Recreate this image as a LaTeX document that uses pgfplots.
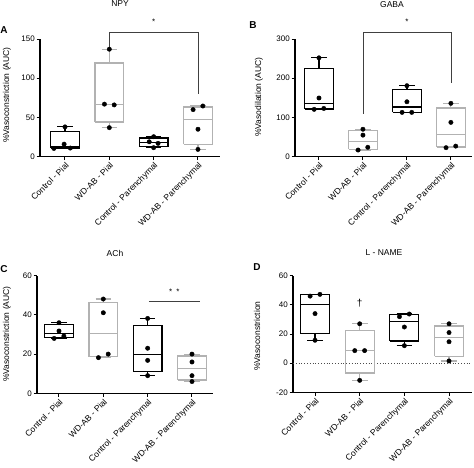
\documentclass[border=0pt]{standalone}
\usepackage{pgfplots}
\pgfplotsset{compat=1.18}
\usepackage{fontspec}
\setmainfont{Liberation Sans}
\pgfplotsset{
 panel/.style={scale only axis, axis lines=left, axis line style={line width=1.3pt,-},
   tick style={line width=1pt, black}, major tick length=3.5pt, tick align=outside,
   xtick={1,2,3,4}, xticklabels={Control - Pial, WD-AB - Pial, Control - Parenchymal, WD-AB - Parenchymal},
   xticklabel style={rotate=45, anchor=north east, inner sep=1pt, font=\fontsize{8.5}{9}\selectfont},
   yticklabel style={font=\fontsize{8}{9}\selectfont, inner sep=1.5pt},
   /pgf/number format/assume math mode=true,
   unbounded coords=jump,
   clip=false, anchor=south west},
 bb/.style={black, line width=1.2pt, line join=miter, mark=none},
 gb/.style={black!30, line width=1.2pt, line join=miter, mark=none},
 dots/.style={only marks, mark=*, mark size=2.2pt, black},
 brk/.style={black!75, line width=0.6pt},
}
\begin{document}
\begin{tikzpicture}
\useasboundingbox (0pt,0pt) rectangle (474pt,467pt);
% ---------- A: NPY
\begin{axis}[panel, at={(40pt,310.3pt)}, width=180pt, height=117.7pt,
  xmin=0.436, xmax=4.497, ymin=0, ymax=150, ytick={0,50,100,150}]
\addplot[bb] coordinates {(0.675,11) (1.325,11) (1.325,32.5) (0.675,32.5) (0.675,11) (1,nan) (0.675,13.5) (1.325,13.5) (1,nan) (1,32.5) (1,38) (1,nan) (0.825,38) (1.175,38) (1,nan) (1,11) (1,10.5) (1,nan) (0.825,10.5) (1.175,10.5)};
\addplot[gb] coordinates {(1.675,44.25) (2.325,44.25) (2.325,119.5) (1.675,119.5) (1.675,44.25) (2,nan) (1.675,66.5) (2.325,66.5) (2,nan) (2,119.5) (2,137) (2,nan) (1.825,137) (2.175,137) (2,nan) (2,44.25) (2,37) (2,nan) (1.825,37) (2.175,37)};
\addplot[bb] coordinates {(2.675,12.9) (3.325,12.9) (3.325,23.9) (2.675,23.9) (2.675,12.9) (3,nan) (2.675,18) (3.325,18) (3,nan) (3,23.9) (3,25.5) (3,nan) (2.825,25.5) (3.175,25.5) (3,nan) (3,12.9) (3,11.5) (3,nan) (2.825,11.5) (3.175,11.5)};
\addplot[gb] coordinates {(3.675,15.7) (4.325,15.7) (4.325,63.45) (3.675,63.45) (3.675,15.7) (4,nan) (3.675,47.5) (4.325,47.5) (4,nan) (4,63.45) (4,64.6) (4,nan) (3.825,64.6) (4.175,64.6) (4,nan) (4,15.7) (4,9.3) (4,nan) (3.825,9.3) (4.175,9.3)};
\addplot[dots] coordinates {(1,38) (0.98,16) (1.12,11) (0.75,10.5)
 (2,137) (1.89,67) (2.11,66) (2,37)
 (3,25.5) (2.9,19) (3.1,17) (3,11.5)
 (3.89,60) (4.11,64.6) (4,35) (4,9.3)};
\addplot[brk] coordinates {(2,136) (2,158.5) (4,158.5) (4,80)};
\node[font=\fontsize{8}{9}\selectfont] at (axis cs:3,172) {*};
\end{axis}
% ---------- B: GABA
\begin{axis}[panel, at={(295pt,310.3pt)}, width=177pt, height=117.7pt,
  xmin=0.455, xmax=4.48, ymin=0, ymax=300, ytick={0,100,200,300}]
\addplot[bb] coordinates {(0.675,121.5) (1.325,121.5) (1.325,225) (0.675,225) (0.675,121.5) (1,nan) (0.675,136.3) (1.325,136.3) (1,nan) (1,225) (1,252) (1,nan) (0.825,252) (1.175,252) (1,nan) (1,121.5) (1,120) (1,nan) (0.825,120) (1.175,120)};
\addplot[gb] coordinates {(1.675,18.75) (2.325,18.75) (2.325,66.25) (1.675,66.25) (1.675,18.75) (2,nan) (1.675,39.5) (2.325,39.5) (2,nan) (2,66.25) (2,70) (2,nan) (1.825,70) (2.175,70) (2,nan) (2,18.75) (2,17) (2,nan) (1.825,17) (2.175,17)};
\addplot[bb] coordinates {(2.675,113.5) (3.325,113.5) (3.325,170.75) (2.675,170.75) (2.675,113.5) (3,nan) (2.675,126.5) (3.325,126.5) (3,nan) (3,170.75) (3,181) (3,nan) (2.825,181) (3.175,181) (3,nan) (3,113.5) (3,112) (3,nan) (2.825,112) (3.175,112)};
\addplot[gb] coordinates {(3.675,24.5) (4.325,24.5) (4.325,123.9) (3.675,123.9) (3.675,24.5) (4,nan) (3.675,57.25) (4.325,57.25) (4,nan) (4,123.9) (4,136) (4,nan) (3.825,136) (4.175,136) (4,nan) (4,24.5) (4,23) (4,nan) (3.825,23) (4.175,23)};
\addplot[dots] coordinates {(1,252) (1,149.6) (0.89,120.7) (1.11,123)
 (2,70) (2,55) (2.11,24) (1.89,17)
 (3,181) (3,140) (2.89,113) (3.11,113)
 (4,136) (4,87.5) (3.89,23) (4.11,27)};
\addplot[brk] coordinates {(2,110) (2,317) (4,317) (4,187)};
\node[font=\fontsize{8}{9}\selectfont] at (axis cs:3,345) {*};
\end{axis}
% ---------- C: ACh
\begin{axis}[panel, at={(37pt,73.7pt)}, width=176pt, height=117.6pt,
  xmin=0.504, xmax=4.474, ymin=0, ymax=60, ytick={0,20,40,60}]
\addplot[bb] coordinates {(0.675,28.3) (1.325,28.3) (1.325,34.95) (0.675,34.95) (0.675,28.3) (1,nan) (0.675,30.5) (1.325,30.5) (1,nan) (1,34.95) (1,36) (1,nan) (0.825,36) (1.175,36) (1,nan) (1,28.3) (1,28) (1,nan) (0.825,28) (1.175,28)};
\addplot[gb] coordinates {(1.675,18.65) (2.325,18.65) (2.325,46.35) (1.675,46.35) (1.675,18.65) (2,nan) (1.675,30.55) (2.325,30.55) (2,nan) (2,46.35) (2,48.1) (2,nan) (1.825,48.1) (2.175,48.1) (2,nan) (2,18.65) (2,18.2) (2,nan) (1.825,18.2) (2.175,18.2)};
\addplot[bb] coordinates {(2.675,10.95) (3.325,10.95) (3.325,34.4) (2.675,34.4) (2.675,10.95) (3,nan) (2.675,19.9) (3.325,19.9) (3,nan) (3,34.4) (3,38.2) (3,nan) (2.825,38.2) (3.175,38.2) (3,nan) (3,10.95) (3,9) (3,nan) (2.825,9) (3.175,9)};
\addplot[gb] coordinates {(3.675,6.75) (4.325,6.75) (4.325,19) (3.675,19) (3.675,6.75) (4,nan) (3.675,12.5) (4.325,12.5) (4,nan) (4,19) (4,20) (4,nan) (3.825,20) (4.175,20) (4,nan) (4,6.75) (4,6) (4,nan) (3.825,6) (4.175,6)};
\addplot[dots] coordinates {(1,36) (1,31.8) (0.89,28) (1.11,29.2)
 (2,48.1) (2,41.1) (1.89,18.2) (2.11,20)
 (3,38.2) (3,23) (3,16.8) (3,9)
 (4,20) (4,16) (4,9) (4,6)};
\addplot[brk] coordinates {(3.03,47.1) (4.19,47.1)};
\node[font=\fontsize{8}{9}\selectfont] at (axis cs:3.6,52) {*\hspace{4pt}*};
\end{axis}
% ---------- D: L-NAME
\begin{axis}[panel, at={(293pt,74.7pt)}, width=179pt, height=116.6pt,
  xmin=0.507, xmax=4.514, ymin=-20, ymax=60, ytick={-20,0,20,40,60}]
\addplot[black!70, line width=0.8pt, dotted] coordinates {(0.507,0) (4.514,0)};
\addplot[bb] coordinates {(0.675,20.3) (1.325,20.3) (1.325,46.9) (0.675,46.9) (0.675,20.3) (1,nan) (0.675,40) (1.325,40) (1,nan) (1,46.9) (1,47.2) (1,nan) (0.825,47.2) (1.175,47.2) (1,nan) (1,20.3) (1,15.7) (1,nan) (0.825,15.7) (1.175,15.7)};
\addplot[gb] coordinates {(1.675,-6.7) (2.325,-6.7) (2.325,22.4) (1.675,22.4) (1.675,-6.7) (2,nan) (1.675,8.6) (2.325,8.6) (2,nan) (2,22.4) (2,27) (2,nan) (1.825,27) (2.175,27) (2,nan) (2,-6.7) (2,-11.8) (2,nan) (1.825,-11.8) (2.175,-11.8)};
\addplot[bb] coordinates {(2.675,15.2) (3.325,15.2) (3.325,33.25) (2.675,33.25) (2.675,15.2) (3,nan) (2.675,28.35) (3.325,28.35) (3,nan) (3,33.25) (3,33.7) (3,nan) (2.825,33.7) (3.175,33.7) (3,nan) (3,15.2) (3,12) (3,nan) (2.825,12) (3.175,12)};
\addplot[gb] coordinates {(3.675,4.8) (4.325,4.8) (4.325,25.5) (3.675,25.5) (3.675,4.8) (4,nan) (3.675,17.85) (4.325,17.85) (4,nan) (4,25.5) (4,27) (4,nan) (3.825,27) (4.175,27) (4,nan) (4,4.8) (4,1.5) (4,nan) (3.825,1.5) (4.175,1.5)};
\addplot[dots] coordinates {(0.89,46) (1.11,47.2) (1,34) (1,15.7)
 (2,27) (1.89,8.6) (2.11,8.6) (2,-11.8)
 (2.89,31.9) (3.11,33.7) (3,24.8) (3,12)
 (4,27) (4,21) (4,14.7) (4,1.5)};
\node[font=\fontsize{10}{11}\selectfont] at (axis cs:2,41) {†};
\end{axis}
% ---------- titles, panel letters, y labels
\begin{scope}[every node/.style={font=\fontsize{8.5}{10}\selectfont, inner sep=0.5pt}]
\node[anchor=north] at (120pt,467pt) {NPY};
\node[anchor=north] at (392pt,466pt) {GABA};
\node at (115pt,214pt) {ACh};
\node at (384pt,214pt) {L - NAME};
\node[rotate=90] at (7pt,372pt) {\%Vasoconstriction (AUC)};
\node[rotate=90] at (259pt,370pt) {\%Vasodilation (AUC)};
\node[rotate=90] at (7pt,133pt) {\%Vasoconstriction (AUC)};
\node[rotate=90] at (257pt,131pt) {\%Vasoconstriction};
\end{scope}
\begin{scope}[every node/.style={font=\fontsize{10}{11}\selectfont\bfseries, inner sep=0pt}]
\node at (4pt,437pt) {A};
\node at (253pt,442pt) {B};
\node at (4pt,198pt) {C};
\node at (257pt,199.5pt) {D};
\end{scope}
\end{tikzpicture}
\end{document}
